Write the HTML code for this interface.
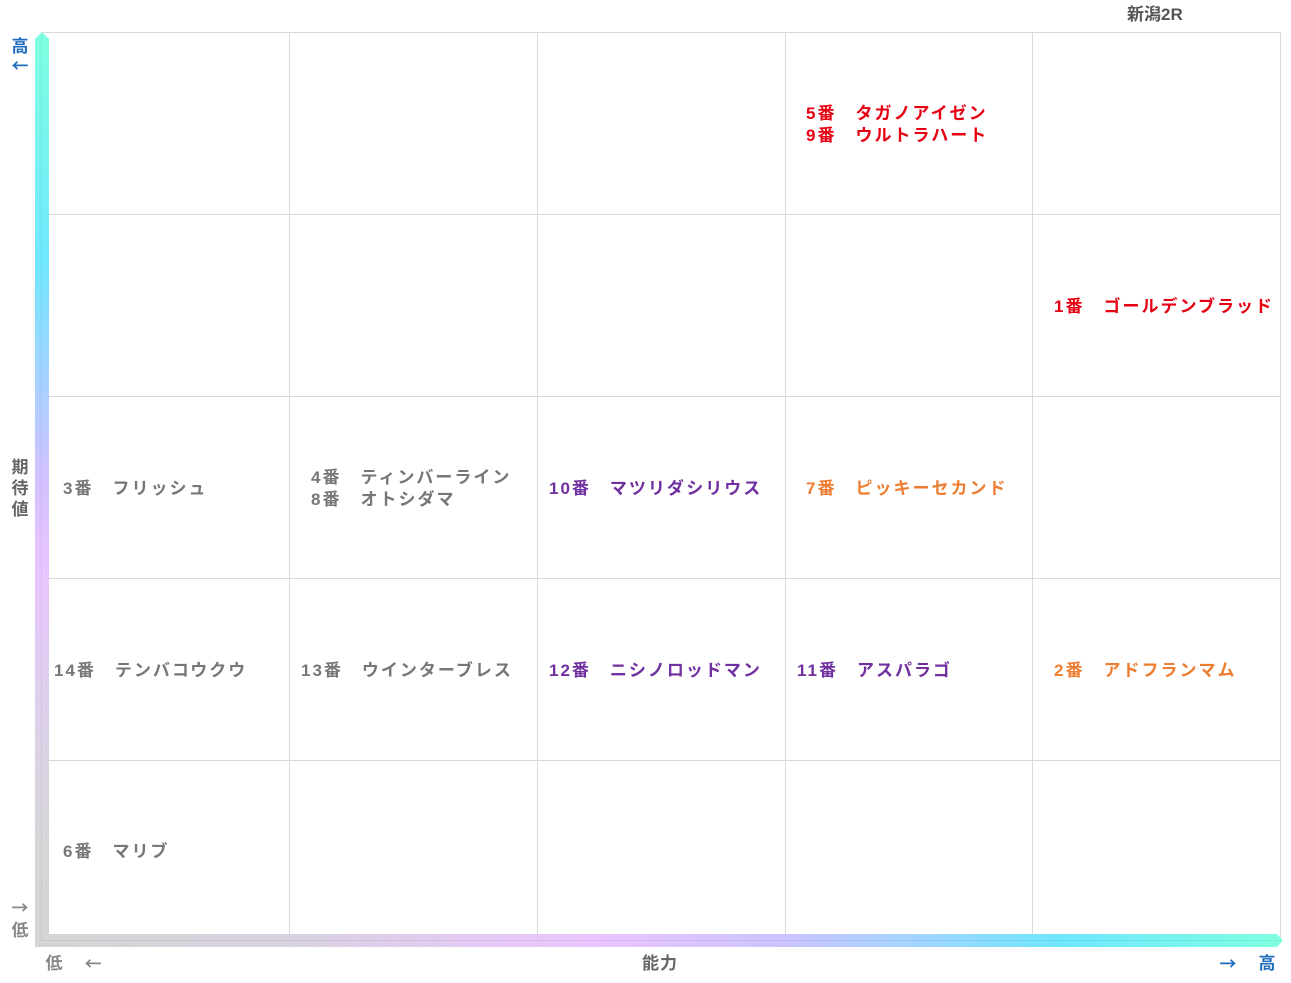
<!DOCTYPE html>
<html><head><meta charset="utf-8">
<style>
html,body{margin:0;padding:0;background:#fff;}
body{width:1291px;height:983px;position:relative;overflow:hidden;font-family:"Liberation Sans","Noto Sans CJK JP",sans-serif;font-weight:bold;}
svg{position:absolute;left:0;top:0;}
.t{position:absolute;font-size:17px;line-height:22px;letter-spacing:2px;white-space:pre;}
.g{color:#777777}.r{color:#e60012}.p{color:#7030a0}.o{color:#ed7d31}
.ax{position:absolute;font-size:17px;line-height:21px;width:20px;text-align:center;}
.ar{font-family:"Noto Sans CJK JP",sans-serif;font-weight:bold;font-size:17px;}
.b{color:#1f6cbf}.gy{color:#888}
</style></head><body>
<svg width="1291" height="983" viewBox="0 0 1291 983">
<defs>
<linearGradient id="gv" gradientUnits="userSpaceOnUse" x1="0" y1="32" x2="0" y2="947">
<stop offset="0" stop-color="#80ffe0"/>
<stop offset="0.25" stop-color="#70e8ff"/>
<stop offset="0.38" stop-color="#a6d2ff"/>
<stop offset="0.48" stop-color="#d0c2ff"/>
<stop offset="0.58" stop-color="#e8c4ff"/>
<stop offset="0.75" stop-color="#ddd2ea"/>
<stop offset="0.9" stop-color="#d6d6d6"/>
<stop offset="1" stop-color="#d4d4d4"/>
</linearGradient>
<linearGradient id="gh" gradientUnits="userSpaceOnUse" x1="35" y1="0" x2="1283" y2="0">
<stop offset="0" stop-color="#d4d4d4"/>
<stop offset="0.2" stop-color="#d8d2e0"/>
<stop offset="0.45" stop-color="#eac4ff"/>
<stop offset="0.6" stop-color="#ccc4ff"/>
<stop offset="0.7" stop-color="#a4d4ff"/>
<stop offset="0.82" stop-color="#70e6ff"/>
<stop offset="1" stop-color="#80ffe0"/>
</linearGradient>
</defs>
<g stroke="#d9d9d9" stroke-width="1" fill="none">
<line x1="42" y1="32.5" x2="1280.5" y2="32.5"/>
<line x1="41" y1="214.5" x2="1280" y2="214.5"/>
<line x1="41" y1="396.5" x2="1280" y2="396.5"/>
<line x1="41" y1="578.5" x2="1280" y2="578.5"/>
<line x1="41" y1="760.5" x2="1280" y2="760.5"/>
<line x1="289.5" y1="32" x2="289.5" y2="940"/>
<line x1="537.5" y1="32" x2="537.5" y2="940"/>
<line x1="785.5" y1="32" x2="785.5" y2="940"/>
<line x1="1032.5" y1="32" x2="1032.5" y2="940"/>
<line x1="1280.5" y1="32" x2="1280.5" y2="940"/>
</g>
<polygon points="35,39 42,32 49,39 49,934 35,947" fill="url(#gv)"/>
<polygon points="35,947 49,934 1277,934 1283,940.5 1277,947" fill="url(#gh)"/>
<line x1="41.5" y1="36" x2="41.5" y2="941" stroke="#000" stroke-opacity="0.06" stroke-width="1"/>
<line x1="41" y1="940.5" x2="1280" y2="940.5" stroke="#000" stroke-opacity="0.06" stroke-width="1"/>
</svg>

<div class="t" style="left:1127px;top:4px;color:#555;letter-spacing:0;">新潟2R</div>

<div class="ax b" style="left:10px;top:36px;">高</div>
<div class="ax b ar" style="left:10px;top:54px;">←</div>
<div class="ax" style="left:10px;top:457px;color:#666;">期<br>待<br>値</div>
<div class="ax gy ar" style="left:10px;top:896px;">→</div>
<div class="ax gy" style="left:10px;top:920px;">低</div>
<div class="ax gy" style="left:44px;top:953px;">低</div>
<div class="ax gy ar" style="left:83px;top:952px;">←</div>
<div class="t" style="left:642px;top:953px;color:#666;letter-spacing:1px;">能力</div>
<div class="ax b ar" style="left:1218px;top:952px;">→</div>
<div class="ax b" style="left:1257px;top:953px;">高</div>

<!-- row 1 -->
<div class="t r" style="left:806px;top:103px;">5番　タガノアイゼン<br>9番　ウルトラハート</div>
<!-- row 2 -->
<div class="t r" style="left:1054px;top:296px;">1番　ゴールデンブラッド</div>
<!-- row 3 -->
<div class="t g" style="left:63px;top:478px;">3番　フリッシュ</div>
<div class="t g" style="left:311px;top:467px;">4番　ティンバーライン<br>8番　オトシダマ</div>
<div class="t p" style="left:549px;top:478px;">10番　マツリダシリウス</div>
<div class="t o" style="left:806px;top:478px;">7番　ピッキーセカンド</div>
<!-- row 4 -->
<div class="t g" style="left:54px;top:660px;">14番　テンバコウクウ</div>
<div class="t g" style="left:301px;top:660px;">13番　ウインターブレス</div>
<div class="t p" style="left:549px;top:660px;">12番　ニシノロッドマン</div>
<div class="t p" style="left:797px;top:660px;">11番　アスパラゴ</div>
<div class="t o" style="left:1054px;top:660px;">2番　アドフランマム</div>
<!-- row 5 -->
<div class="t g" style="left:63px;top:841px;">6番　マリブ</div>
</body></html>
